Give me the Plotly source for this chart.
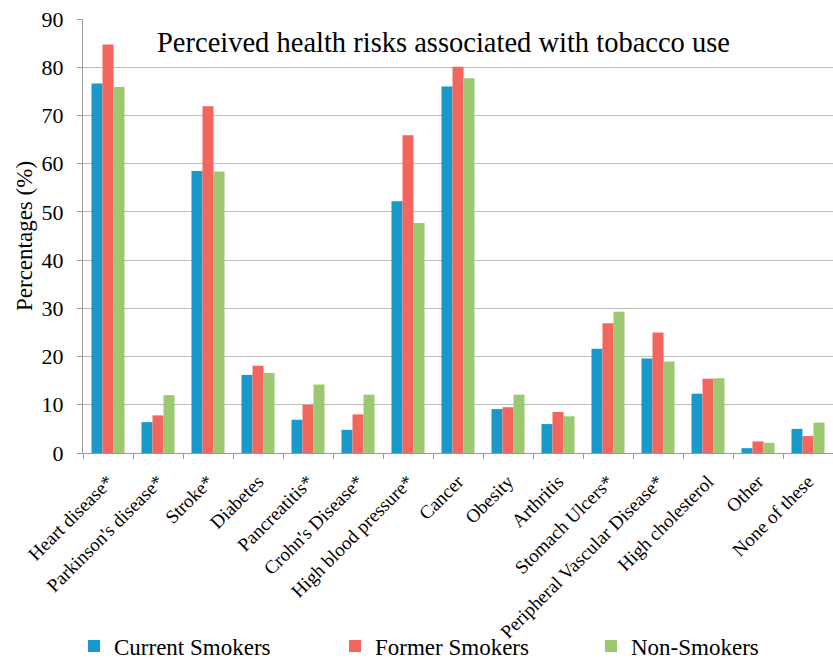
import plotly.graph_objects as go

categories = [
    "Heart disease*", "Parkinson's disease*", "Stroke*", "Diabetes",
    "Pancreatitis*", "Crohn's Disease*", "High blood pressure*", "Cancer",
    "Obesity", "Arthritis", "Stomach Ulcers*", "Peripheral Vascular Disease*",
    "High cholesterol", "Other", "None of these",
]
current_smokers = [76.6, 6.4, 58.5, 16.2, 6.9, 4.8, 52.2, 76.0, 9.1, 6.0, 21.6, 19.6, 12.3, 1.0, 5.0]
former_smokers = [84.7, 7.8, 71.9, 18.1, 10.0, 8.0, 65.9, 80.1, 9.5, 8.5, 26.9, 25.0, 15.4, 2.4, 3.5]
non_smokers = [75.9, 12.0, 58.4, 16.6, 14.2, 12.1, 47.7, 77.7, 12.1, 7.6, 29.3, 19.0, 15.5, 2.1, 6.3]
y_ticks = [0, 10, 20, 30, 40, 50, 60, 70, 80, 90]

FONT = "Liberation Serif, Times New Roman, Times, serif"
W, H = 833, 660

# name, values, colour, legend id, legend left edge (px)
series = [
    ("Current Smokers", current_smokers, "#1a98c9", "legend", 74),
    ("Former Smokers", former_smokers, "#f2665e", "legend2", 335),
    ("Non-Smokers", non_smokers, "#9bc870", "legend3", 591),
]

fig = go.Figure()
legend_layout = {}
for name, vals, color, lg, left in series:
    fig.add_trace(go.Bar(
        x=categories, y=vals, name=name, legend=lg,
        marker=dict(color=color, line=dict(width=0)),
    ))
    legend_layout[lg] = dict(
        orientation="h", xref="container", yref="container",
        x=left / W, y=(H - 646) / H, xanchor="left", yanchor="middle",
        font=dict(family=FONT, size=23, color="#000000"),
        bgcolor="rgba(0,0,0,0)", borderwidth=0,
    )

fig.update_layout(
    width=W, height=H,
    margin=dict(l=83, r=0, t=19, b=207, autoexpand=False),
    paper_bgcolor="white", plot_bgcolor="white",
    barmode="group", bargap=0.34, bargroupgap=0,
    font=dict(family=FONT, color="#000000"),
    showlegend=True,
    annotations=[dict(
        text="Perceived health risks associated with tobacco use",
        xref="paper", yref="paper", x=0.48, y=0.946,
        xanchor="center", yanchor="middle", showarrow=False,
        font=dict(family=FONT, size=28.5, color="#000000"),
    )],
    **legend_layout,
)

fig.update_xaxes(
    type="category", tickangle=-45, automargin=False,
    tickfont=dict(family=FONT, size=19),
    ticklabelstandoff=9,
    showline=True, linecolor="#9a9a9a", linewidth=1,
    ticks="outside", tickson="boundaries", ticklen=5, tickcolor="#9a9a9a",
    showgrid=False,
)
fig.update_yaxes(
    range=[0, 90], tickvals=y_ticks, automargin=False,
    tickfont=dict(family=FONT, size=22),
    ticklabelstandoff=9,
    title=dict(text="Percentages (%)", font=dict(family=FONT, size=23), standoff=2),
    showline=True, linecolor="#9a9a9a", linewidth=1,
    ticks="outside", ticklen=5, tickcolor="#9a9a9a",
    showgrid=True, gridcolor="#bdbdbd", gridwidth=1,
    zeroline=False,
)

fig.write_html("out.html")
